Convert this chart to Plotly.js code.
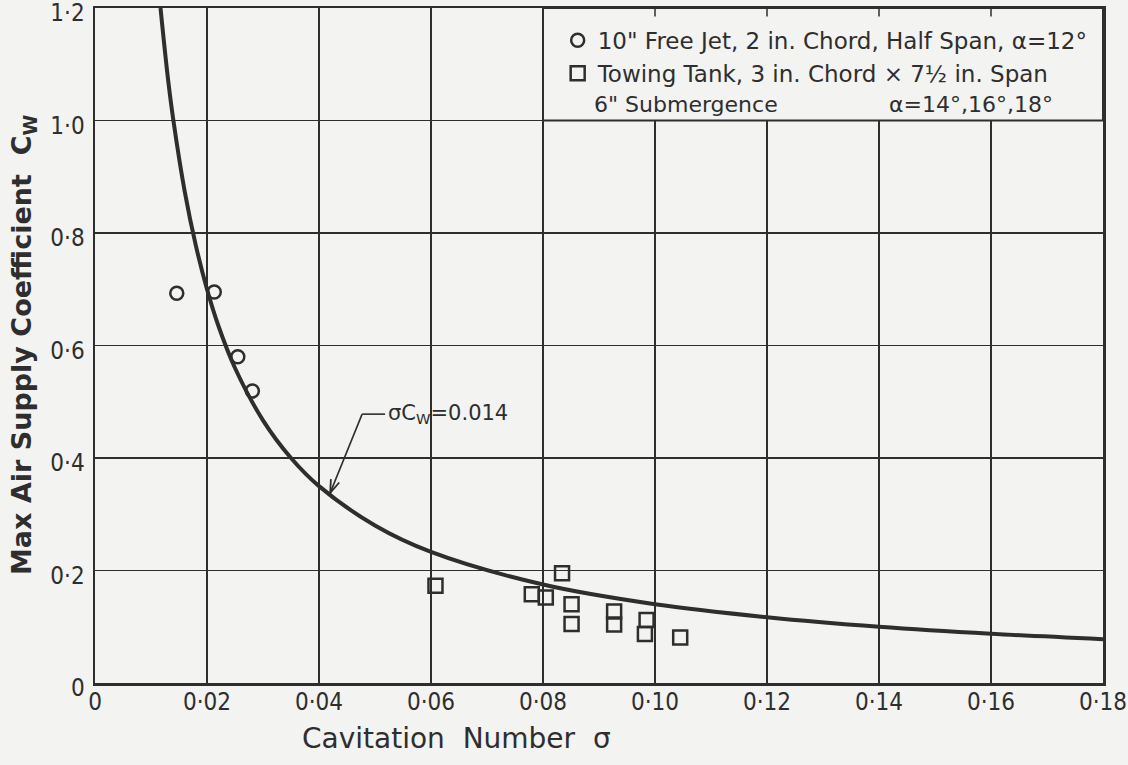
<!DOCTYPE html>
<html>
<head>
<meta charset="utf-8">
<script src="https://cdn.plot.ly/plotly-3.0.1.min.js"></script>
<style>html,body{margin:0;padding:0;background:#f3f3f1;}#chart{width:1128px;height:765px;}</style>
</head>
<body>
<div id="chart"></div>
<script>
// Free jet data (circles)
const jetSigma = [0.0146, 0.0213, 0.0255, 0.0281];
const jetCw    = [0.693, 0.695, 0.580, 0.519];
// Towing tank data (squares)
const tankSigma = [0.0608, 0.0780, 0.0805, 0.0834, 0.0851, 0.0851, 0.0927, 0.0927, 0.0985, 0.0982, 0.1045];
const tankCw    = [0.173, 0.158, 0.152, 0.195, 0.140, 0.105, 0.127, 0.104, 0.112, 0.087, 0.081];
// Curve sigma*Cw = 0.014
const curveSigma = [0.0117, 0.013, 0.014, 0.016, 0.018, 0.020, 0.022, 0.025, 0.030, 0.035, 0.040, 0.050, 0.060, 0.080, 0.100, 0.120, 0.140, 0.160, 0.180];
const curveCw    = [1.200, 1.077, 1.000, 0.875, 0.778, 0.700, 0.636, 0.560, 0.467, 0.400, 0.350, 0.280, 0.233, 0.175, 0.140, 0.117, 0.100, 0.0875, 0.078];
// Ticks
const xTickVals = [0, 0.02, 0.04, 0.06, 0.08, 0.10, 0.12, 0.14, 0.16, 0.18];
const xTickText = ['0', '0·02', '0·04', '0·06', '0·08', '0·10', '0·12', '0·14', '0·16', '0·18'];
const yTickVals = [0, 0.2, 0.4, 0.6, 0.8, 1.0, 1.2];
const yTickText = ['0', '0·2', '0·4', '0·6', '0·8', '1·0', '1·2'];
// Annotation geometry for the curve label (leader from label to curve)
const labelAt = {x: 0.0519, y: 0.478};
const elbow = {x: 0.0477, y: 0.478};
const arrowTip = {x: 0.0420, y: 0.338};

const FONT = '"DejaVu Sans", "Liberation Sans", sans-serif';
const FONTC = '"DejaVu Sans Condensed", "DejaVu Sans", sans-serif';
const INK = '#2e2e2e';
const BG = '#f3f3f1';

const traces = [
  {x: curveSigma, y: curveCw, mode: 'lines', line: {color: INK, width: 4, shape: 'spline', smoothing: 1}, showlegend: false, hoverinfo: 'skip'},
  {x: jetSigma, y: jetCw, mode: 'markers', name: '10" Free Jet, 2 in. Chord, Half Span, α=12°',
   marker: {symbol: 'circle-open', size: 13, color: INK, line: {width: 2.5, color: INK}}},
  {x: tankSigma, y: tankCw, mode: 'markers', name: 'Towing Tank, 3 in. Chord × 7½ in. Span',
   marker: {symbol: 'square-open', size: 14, color: INK, line: {width: 2.5, color: INK}}}
];

const shapes = [
  {type: 'rect', xref: 'x', yref: 'y', x0: 0.0800, x1: 0.18, y0: 1.0, y1: 1.2, fillcolor: BG, line: {color: INK, width: 2}, layer: 'above'},
  {type: 'line', xref: 'x', yref: 'y', x0: elbow.x, x1: labelAt.x - 0.0001, y0: elbow.y, y1: elbow.y, line: {color: INK, width: 1.6}},
  {type: 'line', xref: 'x', yref: 'y', x0: elbow.x, x1: arrowTip.x, y0: elbow.y, y1: arrowTip.y, line: {color: INK, width: 1.6}}
];
// arrowhead (small V at the curve end of the leader), computed in pixel space
(function () {
  const pxPerX = 1008 / 0.18, pxPerY = 675 / 1.2;
  const dx = (arrowTip.x - elbow.x) * pxPerX, dy = (arrowTip.y - elbow.y) * pxPerY;
  const L = Math.hypot(dx, dy), ux = dx / L, uy = dy / L;
  const len = 13, half = 4.5;
  [1, -1].forEach(s => {
    const bx = -ux * len + s * (-uy) * half, by = -uy * len + s * ux * half;
    shapes.push({type: 'line', xref: 'x', yref: 'y', x0: arrowTip.x, y0: arrowTip.y,
      x1: arrowTip.x + bx / pxPerX, y1: arrowTip.y + by / pxPerY, line: {color: INK, width: 1.8}});
  });
})();
xTickVals.filter(v => v > 0.081 && v < 0.179).forEach(v => {
  shapes.push({type: 'line', xref: 'x', yref: 'y', x0: v, x1: v, y0: 1.2, y1: 1.185, line: {color: INK, width: 1.5}, layer: 'above'});
});

const annotations = [
  {x: labelAt.x, y: labelAt.y, xref: 'x', yref: 'y', xanchor: 'left', yanchor: 'middle', showarrow: false, text: 'σC<sub>W</sub>=0.014', font: {family: FONT, size: 21, color: INK}},
  {x: 0.0888, y: 1.0293, xref: 'x', yref: 'y', xanchor: 'left', yanchor: 'middle', showarrow: false, text: '6" Submergence', font: {family: FONT, size: 22, color: INK}},
  {x: 0.1415, y: 1.0293, xref: 'x', yref: 'y', xanchor: 'left', yanchor: 'middle', showarrow: false, text: 'α=14°,16°,18°', font: {family: FONT, size: 22, color: INK}},
  // x-axis title
  {x: (456 - 95) / 1008, y: -(738 - 683) / 675, xref: 'paper', yref: 'paper', xanchor: 'center', yanchor: 'middle', showarrow: false,
   text: 'Cavitation  Number  σ', font: {family: FONT, size: 28, color: INK}},
  // y-axis title
  {x: -(95 - 23) / 1008, y: (683 - 345) / 675, xref: 'paper', yref: 'paper', xanchor: 'center', yanchor: 'middle', showarrow: false, textangle: -90,
   text: '<b>Max Air Supply Coefficient  C<sub>W</sub></b>', font: {family: FONT, size: 27, color: INK}}
];

const layout = {
  width: 1128, height: 765,
  margin: {l: 95, r: 25, t: 8, b: 82},
  paper_bgcolor: BG, plot_bgcolor: BG,
  font: {family: FONT, color: INK, size: 20},
  showlegend: true,
  legend: {x: 0.459, y: 0.984, xanchor: 'left', yanchor: 'top', bgcolor: 'rgba(0,0,0,0)', borderwidth: 0,
           font: {family: FONT, size: 23, color: INK}, tracegroupgap: 0, itemwidth: 30},
  xaxis: {range: [0, 0.18], tickvals: xTickVals, ticktext: xTickText, showgrid: true, gridcolor: INK, gridwidth: 1.5,
          zeroline: false, showline: true, linecolor: INK, linewidth: 2.5, mirror: true, ticks: '',
          ticklabeloverflow: 'allow', ticklabelstandoff: -4,
          tickfont: {family: FONTC, size: 24, color: INK}},
  yaxis: {range: [0, 1.2], tickvals: yTickVals, ticktext: yTickText, showgrid: true, gridcolor: INK, gridwidth: 1.5,
          zeroline: false, showline: true, linecolor: INK, linewidth: 2.5, mirror: true, ticks: '',
          ticklabeloverflow: 'allow', ticklabelstandoff: 3, ticklabelshift: 5,
          tickfont: {family: FONTC, size: 24, color: INK}},
  shapes: shapes,
  annotations: annotations
};

Plotly.newPlot('chart', traces, layout, {displayModeBar: false, staticPlot: true});
</script>
</body>
</html>
